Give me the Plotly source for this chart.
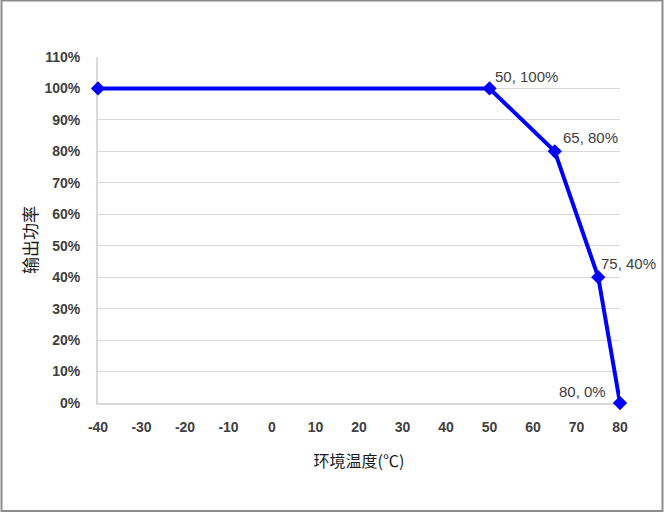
import plotly.graph_objects as go

temps = [-40, 50, 65, 75, 80]
power = [1.00, 1.00, 0.80, 0.40, 0.00]
labels = ["", "50, 100%", "65, 80%", "75, 40%", "80, 0%"]

x_tick_vals = [-40, -30, -20, -10, 0, 10, 20, 30, 40, 50, 60, 70, 80]
x_tick_text = ["-40", "-30", "-20", "-10", "0", "10", "20", "30", "40", "50", "60", "70", "80"]

x_title = "环境温度(℃)"
y_title = "输出功率"

# label styling (anchor side and pixel offsets)
lab_anchor = ["left", "left", "left", "left", "right"]
lab_dx = [3, 3, 6, 1, -12]
lab_dy = [12, 12, 14, 14, 12]

W, H = 666, 513
ml, mr, mt, mb = 98, 46, 57, 110

fig = go.Figure()
fig.add_trace(go.Scatter(
    x=temps, y=power, mode="lines+markers",
    line=dict(color="#0000ff", width=4),
    marker=dict(symbol="diamond", size=11, color="#0000ff"),
    cliponaxis=False, showlegend=False,
))

for x, y, t, a, dx, dy in zip(temps, power, labels, lab_anchor, lab_dx, lab_dy):
    if not t:
        continue
    fig.add_annotation(x=x, y=y, text=t, showarrow=False, xanchor=a, yanchor="middle",
                       xshift=dx, yshift=dy,
                       font=dict(family="Liberation Sans, Arial", size=15, color="#404040"))

pw = W - ml - mr
ph = H - mt - mb
def px(x):
    return (x - ml) / pw
def py(y):
    return (H - mb - y) / ph

fig.add_shape(type="rect", xref="paper", yref="paper",
              x0=px(1.5), x1=px(662.5), y0=py(511), y1=py(0.5),
              line=dict(color="#8c8c8c", width=2), fillcolor="rgba(0,0,0,0)", layer="below")

fig.add_annotation(xref="paper", yref="paper", x=px(29), y=py(240), text=y_title,
                   textangle=-90, showarrow=False, xanchor="center", yanchor="middle",
                   font=dict(family="Noto Sans CJK SC", size=17, color="#1a1a1a"))

tickfont = dict(family="Liberation Sans, Arial", size=14, color="#404040", weight="bold")
fig.update_layout(
    width=W, height=H,
    margin=dict(l=ml, r=mr, t=mt, b=mb),
    paper_bgcolor="white", plot_bgcolor="white",
    xaxis=dict(range=[-40, 80], tickvals=x_tick_vals, ticktext=x_tick_text, showgrid=False, zeroline=False,
               showline=True, linecolor="#d9d9d9", linewidth=2, layer="below traces",
               tickfont=tickfont, ticks="", ticklabelstandoff=10,
               title=dict(text=x_title, font=dict(family="Noto Sans CJK SC", size=16, color="#1a1a1a"), standoff=22)),
    yaxis=dict(range=[0, 1.1], dtick=0.1, tickformat=".0%", showgrid=True, gridcolor="#d9d9d9", gridwidth=1,
               zeroline=False, showline=True, linecolor="#d9d9d9", linewidth=2, layer="below traces",
               tickfont=tickfont, ticks="", ticklabelstandoff=13),
)

fig.write_html("out.html", config={"displayModeBar": False},
               post_script="document.body.style.margin='0';document.body.style.padding='0';")
